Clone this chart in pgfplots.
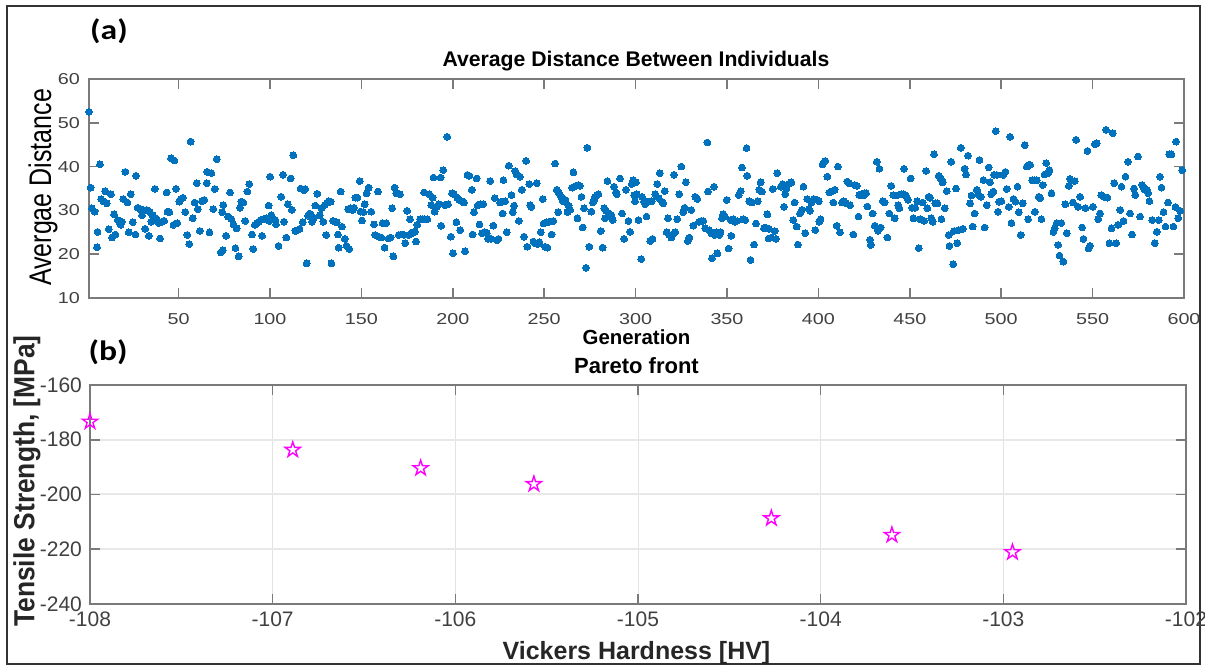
\documentclass[border=0pt]{standalone}
\usepackage{fontspec}
\setmainfont{Liberation Sans}
\newfontfamily\afont{Liberation Sans}[FakeStretch=1.25]
\newfontfamily\capfont{Carlito}[FakeStretch=1.2]
\usepackage{graphicx}
\usepackage{pgfplots}
\usepackage{pgfplotstable}
\pgfplotsset{compat=1.18}

\definecolor{mblue}{HTML}{0072BD}
\definecolor{mmag}{HTML}{FF00FF}
\definecolor{axgray}{HTML}{7A7A7A}
\definecolor{tickgray}{HTML}{404040}

% open five-pointed star, like MATLAB's 'p' marker
\pgfdeclareplotmark{pentagram}{%
  \pgfpathmoveto{\pgfpointpolar{90}{\pgfplotmarksize}}%
  \pgfpathlineto{\pgfpointpolar{126}{0.382*\pgfplotmarksize}}%
  \pgfpathlineto{\pgfpointpolar{162}{\pgfplotmarksize}}%
  \pgfpathlineto{\pgfpointpolar{198}{0.382*\pgfplotmarksize}}%
  \pgfpathlineto{\pgfpointpolar{234}{\pgfplotmarksize}}%
  \pgfpathlineto{\pgfpointpolar{270}{0.382*\pgfplotmarksize}}%
  \pgfpathlineto{\pgfpointpolar{306}{\pgfplotmarksize}}%
  \pgfpathlineto{\pgfpointpolar{342}{0.382*\pgfplotmarksize}}%
  \pgfpathlineto{\pgfpointpolar{18}{\pgfplotmarksize}}%
  \pgfpathlineto{\pgfpointpolar{54}{0.382*\pgfplotmarksize}}%
  \pgfpathclose\pgfusepathqstroke}

\begin{document}

% average distance per generation
\pgfplotstableread[row sep=\\]{
x y\\
1 52.5\\ 1.9 35.2\\ 2.6 30.5\\ 4.1 29.7\\ 5.7 25.1\\ 5.4 21.6\\ 7.0 40.5\\ 7.6 32.6\\ 8.8 32.1\\ 9.8 34.4\\
10.7 31.6\\ 11.8 25.7\\ 13.0 33.7\\ 13.6 23.8\\ 14.7 29.1\\ 15.4 24.5\\ 16.7 27.8\\ 17.6 27.4\\ 18.3 26.7\\ 19.1 27.4\\
19.8 32.6\\ 20.9 38.8\\ 22.0 31.8\\ 22.7 25.0\\ 23.8 33.7\\ 24.9 27.3\\ 26.4 24.5\\ 26.7 37.9\\ 27.6 30.6\\ 28.9 30.3\\
30.0 28.9\\ 30.7 30.1\\ 31.8 25.8\\ 32.6 30.1\\ 33.7 24.2\\ 34.4 29.6\\ 35.1 27.4\\ 35.8 28.9\\ 37.0 34.9\\ 37.3 28.3\\
38.4 27.8\\ 39.1 27.1\\ 39.9 23.6\\ 41.0 27.4\\ 42.1 27.6\\ 43.5 34.1\\ 43.9 29.7\\ 45.0 29.6\\ 45.9 41.9\\ 47.2 26.7\\
47.7 41.4\\ 48.6 34.9\\ 49.3 27.1\\ 50.4 32.0\\ 51.2 32.6\\ 52.3 32.9\\ 53.7 29.6\\ 54.8 24.4\\ 55.9 22.3\\ 56.6 45.7\\
57.7 28.2\\ 58.8 31.8\\ 59.9 36.2\\ 60.6 30.3\\ 61.7 25.3\\ 62.8 32.1\\ 64.1 32.4\\ 65.4 36.2\\ 65.7 38.8\\ 66.9 25.0\\
68.0 38.5\\ 69.0 30.3\\ 69.8 34.9\\ 70.9 41.7\\ 73.1 20.4\\ 73.8 29.6\\ 74.5 31.2\\ 74.2 20.9\\ 76.0 24.2\\ 77.1 28.6\\
78.2 34.1\\ 78.9 28.0\\ 80.0 26.8\\ 81.1 21.4\\ 81.8 25.9\\ 82.9 19.5\\ 83.6 30.6\\ 84.3 32.0\\ 85.4 31.8\\ 86.5 27.6\\
87.6 34.3\\ 88.7 36.0\\ 90.2 24.5\\ 90.9 21.2\\ 91.7 26.7\\ 92.8 27.1\\ 93.8 27.4\\ 94.9 27.8\\ 95.7 24.2\\ 96.8 28.0\\
97.9 28.2\\ 99.3 31.1\\ 99.7 27.6\\ 100.1 37.7\\ 100.8 28.9\\
102.9 27.8\\ 103.3 26.8\\ 104.7 21.9\\ 106.2 33.1\\ 107.1 38.1\\ 107.7 27.4\\ 108.9 23.8\\ 109.8 31.4\\ 111.3 37.3\\ 112.0 30.1\\
112.8 42.6\\ 113.9 25.3\\ 115.0 25.5\\ 116.2 25.8\\ 116.8 35.0\\ 117.9 27.3\\ 118.6 34.6\\ 119.3 34.9\\ 120.1 17.9\\ 120.8 28.8\\
121.7 29.3\\ 122.6 28.9\\ 123.0 27.4\\ 124.1 28.3\\ 124.8 31.1\\ 125.9 33.8\\ 127.2 28.9\\ 128.1 30.5\\ 129.2 27.4\\ 129.9 31.2\\
130.8 24.4\\ 131.4 31.8\\ 132.1 32.1\\ 133.2 32.0\\ 133.6 17.9\\ 134.5 27.6\\ 135.4 27.4\\ 136.5 27.3\\ 137.2 24.5\\ 137.6 21.5\\
138.7 34.3\\ 139.4 26.3\\ 140.9 23.5\\ 141.9 21.9\\ 142.7 30.3\\ 143.4 21.2\\ 144.1 30.5\\ 145.2 30.1\\ 146.0 30.6\\ 146.7 32.9\\
147.8 32.9\\ 149.1 36.7\\ 149.6 29.7\\ 150.3 27.7\\ 151.1 29.6\\ 151.8 31.4\\ 152.9 33.9\\ 154.0 35.2\\ 155.4 29.7\\ 156.9 26.8\\
157.6 24.4\\ 159.1 34.3\\ 159.5 24.0\\ 160.9 23.8\\ 161.6 27.1\\ 162.7 21.5\\ 163.5 27.1\\ 164.9 23.6\\ 166.0 23.8\\ 166.8 30.5\\
167.5 19.5\\ 168.2 35.2\\ 169.1 33.9\\ 170.4 24.4\\ 171.1 33.7\\ 171.9 24.5\\ 173.3 24.4\\ 174.0 22.5\\ 175.1 29.9\\ 175.9 24.4\\
176.6 28.0\\ 177.7 24.8\\ 178.4 25.0\\ 179.2 25.1\\ 179.9 22.9\\ 180.6 26.7\\ 182.1 28.0\\ 183.2 28.0\\ 184.3 34.1\\ 184.6 28.0\\
186.1 28.0\\ 187.2 33.7\\ 188.3 31.2\\ 189.0 32.9\\ 189.4 37.5\\ 190.1 29.7\\ 191.2 30.8\\ 192.3 31.4\\ 193.4 37.5\\ 193.7 26.5\\
194.8 39.2\\ 195.6 31.2\\ 197.0 46.8\\ 197.4 31.4\\ 198.9 24.0\\ 199.6 33.9\\ 200.1 20.2\\
200.7 33.7\\ 202.5 32.9\\ 203.6 32.4\\ 204.9 32.1\\ 206.2 31.8\\ 202.0 27.3\\ 204.0 25.5\\ 206.7 20.7\\ 208.0 38.1\\ 209.1 37.9\\
210.4 34.7\\ 210.9 24.5\\ 211.6 29.6\\ 213.1 37.3\\ 213.5 31.1\\ 214.6 26.8\\ 214.9 31.4\\ 216.0 24.8\\ 216.7 31.4\\ 217.5 25.0\\
218.6 24.8\\ 219.3 23.5\\ 220.4 36.7\\ 220.8 23.5\\ 222.2 26.5\\ 222.9 32.8\\ 224.0 23.2\\ 225.0 23.5\\ 225.9 31.8\\ 226.8 32.0\\
227.3 29.3\\ 227.7 36.9\\ 228.6 32.1\\ 229.5 25.0\\ 230.6 40.2\\ 232.1 33.5\\ 232.8 29.6\\ 233.5 31.1\\ 234.2 39.0\\ 235.0 38.2\\
236.1 27.6\\ 236.8 37.7\\ 237.7 34.7\\ 239.0 24.0\\ 240.1 41.3\\ 240.8 21.7\\ 241.9 36.0\\ 242.3 31.2\\ 243.0 30.8\\ 244.1 22.9\\
245.0 22.5\\ 245.9 36.2\\ 246.3 22.3\\ 247.4 22.7\\ 248.1 25.0\\ 249.2 32.6\\ 249.6 27.0\\ 250.5 21.7\\ 251.4 27.3\\ 251.8 21.5\\
252.9 27.4\\ 254.1 24.5\\ 255.0 27.6\\ 256.0 40.7\\ 256.9 34.7\\ 257.6 29.6\\ 258.0 33.9\\ 258.7 33.5\\ 259.6 32.9\\ 260.2 32.1\\
260.9 32.0\\ 261.6 32.4\\ 262.7 29.6\\ 263.4 31.1\\ 264.2 30.1\\ 265.3 35.2\\ 266.0 38.7\\ 266.4 35.4\\ 267.4 35.6\\ 268.2 28.2\\
268.7 35.8\\ 269.6 35.6\\ 270.4 33.1\\ 271.1 26.1\\ 271.8 30.5\\ 272.9 16.9\\ 273.6 44.3\\ 274.7 21.7\\ 275.8 29.7\\ 276.6 31.8\\
277.3 32.4\\ 278.0 33.1\\ 278.8 33.5\\ 279.7 33.7\\ 280.9 25.3\\ 282.0 21.5\\ 282.8 30.5\\ 283.3 28.2\\ 283.9 29.9\\ 284.6 36.7\\
285.7 29.3\\ 286.8 28.9\\ 287.5 27.8\\ 288.2 35.4\\ 289.2 34.1\\ 289.7 33.7\\ 291.5 37.3\\ 292.6 29.3\\ 293.7 23.5\\ 294.8 34.7\\
296.1 27.6\\ 297.0 25.1\\ 297.9 36.0\\ 298.8 36.9\\ 299.2 33.5\\ 299.7 32.1\\
300.2 36.4\\ 300.7 33.7\\ 301.6 27.8\\ 303.1 18.9\\ 303.5 33.1\\ 304.6 32.1\\ 305.3 31.4\\ 306.0 28.6\\ 306.8 32.0\\ 308.0 23.0\\
308.9 32.1\\ 309.3 23.5\\ 310.8 33.7\\ 311.9 36.0\\ 312.6 32.8\\ 313.3 38.5\\ 314.4 32.0\\ 315.1 31.6\\ 315.9 34.4\\ 317.0 25.0\\
317.7 28.2\\ 318.4 24.4\\ 319.5 23.8\\ 320.3 24.5\\ 321.0 38.1\\ 321.7 25.0\\ 322.8 28.0\\ 323.9 33.7\\ 325.0 40.0\\ 326.1 29.6\\
326.8 30.6\\ 327.5 36.4\\ 328.6 23.0\\ 329.4 23.8\\ 330.5 30.1\\ 331.6 26.5\\ 332.7 33.1\\ 333.8 32.6\\ 334.8 27.4\\ 335.9 27.6\\
337.0 27.6\\ 338.1 25.9\\ 339.2 45.5\\ 339.6 34.3\\ 340.3 25.5\\ 341.4 24.8\\ 341.8 19.1\\ 342.9 35.4\\ 343.2 24.4\\ 344.0 25.0\\
344.7 20.2\\ 345.8 24.4\\ 346.5 25.0\\ 347.2 28.2\\ 348.0 29.1\\ 348.7 28.6\\ 349.8 32.4\\ 350.9 21.3\\ 352.0 27.8\\ 352.4 24.2\\
353.4 28.0\\ 354.5 27.4\\ 355.6 27.6\\ 356.4 33.5\\ 357.5 34.4\\ 358.2 39.8\\ 358.9 28.0\\ 360.0 27.8\\ 360.7 44.2\\ 361.1 37.9\\
362.2 32.1\\ 362.9 18.7\\ 363.7 31.8\\ 364.8 22.2\\ 365.9 27.0\\ 366.9 32.1\\ 367.7 34.7\\ 368.4 36.4\\ 369.1 34.3\\ 370.2 25.9\\
371.0 26.1\\ 372.1 29.1\\ 372.8 23.6\\ 373.1 25.8\\ 374.2 23.8\\ 375.0 34.9\\ 376.1 25.3\\ 376.8 23.5\\ 377.5 38.5\\ 379.4 35.4\\
380.4 36.0\\ 381.2 30.8\\ 381.9 33.7\\ 382.6 35.0\\ 383.7 36.0\\ 385.2 36.4\\ 386.3 27.8\\ 387.0 31.8\\ 388.1 26.3\\ 388.8 22.2\\
389.9 29.3\\ 391.0 30.1\\ 391.8 35.4\\ 392.8 24.8\\ 393.9 32.6\\ 394.7 30.3\\ 395.4 29.9\\ 396.1 31.8\\ 397.4 32.6\\ 398.3 25.5\\
399.2 32.4\\
400.2 32.1\\ 400.5 27.4\\ 401.2 28.0\\ 402.3 40.5\\ 403.8 41.3\\ 404.9 37.7\\ 406.0 34.1\\ 407.6 34.4\\ 408.2 31.8\\ 408.9 34.7\\
410.0 26.5\\ 410.7 40.0\\ 411.8 25.0\\ 412.9 31.8\\ 414.0 32.1\\ 415.1 31.6\\ 415.8 36.6\\ 416.6 36.2\\ 417.3 31.2\\ 419.1 24.5\\
419.9 35.8\\ 421.0 35.6\\ 421.9 28.6\\ 422.4 33.5\\ 423.5 33.7\\ 424.6 33.4\\ 425.3 33.9\\ 426.1 33.9\\ 426.8 30.9\\ 428.2 23.3\\
428.6 22.1\\ 429.7 29.3\\ 430.8 26.5\\ 431.9 41.1\\ 432.6 25.3\\ 433.4 39.5\\ 434.1 26.1\\ 435.2 32.1\\ 436.3 31.8\\ 437.7 23.8\\
438.8 29.3\\ 439.9 35.6\\ 441.0 33.5\\ 441.7 28.2\\ 442.5 33.4\\ 443.6 31.2\\ 444.3 30.5\\ 445.4 33.7\\ 446.5 33.7\\ 446.8 39.5\\
447.9 33.4\\ 449.0 32.4\\ 450.5 37.3\\ 451.2 30.6\\ 452.0 28.2\\ 453.0 30.6\\ 454.1 32.1\\ 454.9 21.4\\ 455.6 28.0\\ 457.1 31.8\\
457.8 27.6\\ 458.9 39.0\\ 459.6 30.5\\ 460.3 33.1\\ 461.1 32.9\\ 461.8 28.2\\ 462.5 27.4\\ 463.3 42.8\\ 464.0 31.6\\ 465.1 31.6\\
465.8 37.9\\ 466.9 37.3\\ 467.3 28.0\\ 468.0 36.4\\ 469.1 30.5\\ 470.2 34.4\\ 471.3 24.4\\ 471.7 21.9\\ 472.7 41.1\\ 473.8 17.7\\
474.2 25.3\\ 475.3 35.0\\ 476.0 22.5\\ 476.8 25.5\\ 477.9 44.3\\ 479.0 25.8\\ 480.0 39.5\\ 480.8 38.2\\ 481.9 42.5\\ 483.0 31.6\\
483.7 33.4\\ 484.4 26.3\\ 485.5 29.3\\ 486.6 34.7\\ 487.3 33.7\\ 488.1 41.5\\ 488.8 33.1\\ 490.3 36.9\\ 491.0 26.1\\ 492.1 31.2\\
493.2 39.8\\ 493.9 36.4\\ 494.6 33.7\\ 495.7 34.3\\ 496.1 38.1\\ 497.0 48.1\\ 497.6 38.1\\ 498.3 29.7\\ 498.8 32.0\\
500.1 32.1\\ 501.2 38.1\\ 502.3 38.8\\ 503.0 34.9\\ 504.1 30.8\\ 504.9 46.8\\ 505.6 27.1\\ 506.7 32.6\\ 507.8 32.0\\ 508.9 35.4\\
509.6 29.6\\ 510.7 24.4\\ 511.8 31.6\\ 512.9 44.9\\ 514.0 40.0\\ 514.7 28.0\\ 515.1 40.4\\ 515.8 40.4\\ 516.9 36.9\\ 518.0 36.9\\
518.4 29.7\\ 519.5 36.9\\ 520.5 33.1\\ 521.3 32.8\\ 522.0 28.0\\ 522.7 35.8\\ 523.8 38.2\\ 524.6 40.8\\ 525.7 38.5\\ 526.4 39.2\\
527.5 33.9\\ 528.6 25.1\\ 529.3 25.9\\ 530.4 27.1\\ 531.1 22.1\\ 531.9 19.7\\ 532.9 27.1\\ 534.0 18.3\\ 535.1 31.4\\ 535.9 24.8\\
537.0 35.6\\ 537.7 37.2\\ 539.2 31.8\\ 540.2 36.7\\ 541.0 46.1\\ 542.1 30.8\\ 543.2 33.1\\ 544.3 26.1\\ 545.0 23.5\\ 546.1 30.5\\
547.2 43.6\\ 547.9 21.3\\ 548.6 21.9\\ 550.1 30.8\\ 551.2 45.1\\ 552.3 45.3\\ 553.0 28.0\\ 554.1 29.3\\ 554.8 33.5\\ 556.3 33.1\\
557.4 48.4\\ 558.1 32.9\\ 559.2 22.5\\ 560.3 25.9\\ 561.0 47.6\\ 561.8 36.2\\ 562.9 22.5\\ 564.0 26.7\\ 565.1 30.1\\ 565.8 35.4\\
566.9 27.6\\ 568.0 37.7\\ 569.4 41.1\\ 570.5 29.3\\ 571.6 24.5\\ 572.7 35.0\\ 573.4 33.5\\ 574.9 42.3\\ 576.0 28.6\\ 577.1 35.8\\
577.8 35.4\\ 578.5 34.7\\ 579.6 34.7\\ 580.4 33.9\\ 581.1 32.1\\ 582.6 27.8\\ 584.0 22.5\\ 585.1 25.1\\ 586.2 27.8\\ 586.9 37.7\\
587.7 35.2\\ 588.8 29.6\\ 589.9 26.3\\ 591.3 31.8\\ 592.0 42.8\\ 593.1 42.8\\ 594.2 26.3\\ 595.3 30.8\\ 595.7 45.7\\ 596.8 28.2\\
597.9 29.9\\ 599.0 39.2\\
}\gendata

\begin{tikzpicture}
\useasboundingbox (0,0) rectangle (602.5pt,333.5pt);
\draw[black!80, line width=0.7pt] (3.5pt,1.5pt) rectangle (600pt,330.5pt);

\pgfplotsset{
  matlabbox/.style={
    scale only axis, anchor=south west,
    axis line style={axgray, line width=0.8pt},
    major tick style={axgray, line width=0.8pt},
    major tick length=5pt, tick align=inside,
    clip=false,
  }
}

% (a) average distance
\begin{axis}[matlabbox,
  at={(44.5pt,184.5pt)}, width=547.5pt, height=109.5pt,
  xmin=1, xmax=600, ymin=10, ymax=60,
  xtick={50,100,...,600}, ytick={10,20,...,60},
  /pgf/number format/assume math mode=true,
  tick label style={font=\afont\fontsize{7.9}{9}\selectfont, text=tickgray},
  xticklabel style={yshift=-4pt},
  yticklabel style={xshift=-1pt},
]
\addplot[only marks, mark=*, mark size=1.7pt, mblue,
  mark options={fill=mblue, draw=mblue, line width=0pt}] table[x=x, y=y] {\gendata};
\end{axis}

% (b) pareto front
\begin{axis}[matlabbox,
  at={(45pt,31.5pt)}, width=548pt, height=109.5pt,
  xmin=-108, xmax=-102, ymin=-240, ymax=-160,
  xtick={-108,-107,...,-102}, xticklabels={-108,-107,-106,-105,-104,-103,-102},
  ytick={-240,-220,...,-160}, yticklabels={-240,-220,-200,-180,-160},
  grid=major, x grid style={gray!22, line width=0.5pt}, y grid style={gray!18, line width=1pt},
  tick label style={font=\fontsize{10.5}{12}\selectfont, text=tickgray},
  xticklabel style={yshift=-0.3pt},
  yticklabel style={xshift=-0.5pt},
]
\addplot[only marks, mark=pentagram, mark size=4pt, mmag,
  mark options={line width=0.7pt}] coordinates {
  (-108.00,-173.4) (-106.89,-183.7) (-106.19,-190.4) (-105.57,-196.2)
  (-104.27,-208.7) (-103.61,-214.8) (-102.95,-221.1)
};
\end{axis}

% panel letters, titles and axis labels
\node[font=\capfont\bfseries\fontsize{14}{16}\selectfont] at (54.5pt,318pt) {(a)};
\node[font=\capfont\bfseries\fontsize{14}{16}\selectfont] at (54pt,157.5pt) {(b)};
\node[anchor=base, font=\bfseries\fontsize{10.6}{12}\selectfont] at (318pt,300.25pt) {Average Distance Between Individuals};
\node[anchor=base, font=\bfseries\fontsize{10.2}{12}\selectfont] at (318.25pt,161pt) {Generation};
\node[rotate=90, font=\fontsize{12.5}{14}\selectfont] at (21.5pt,239.75pt) {\scalebox{1}[1.25]{Avergae Distance}};
\node[anchor=base, font=\bfseries\fontsize{11}{13}\selectfont] at (318.25pt,146.5pt) {Pareto front};
\node[anchor=base, font=\bfseries\fontsize{12.5}{14}\selectfont, text=black!85] at (318.25pt,3.5pt) {Vickers Hardness [HV]};
\node[rotate=90, font=\bfseries\fontsize{13.2}{15}\selectfont, text=black!85] at (13.5pt,93pt) {\scalebox{1}[1.1]{Tensile Strength, [MPa]}};
\end{tikzpicture}
\end{document}
